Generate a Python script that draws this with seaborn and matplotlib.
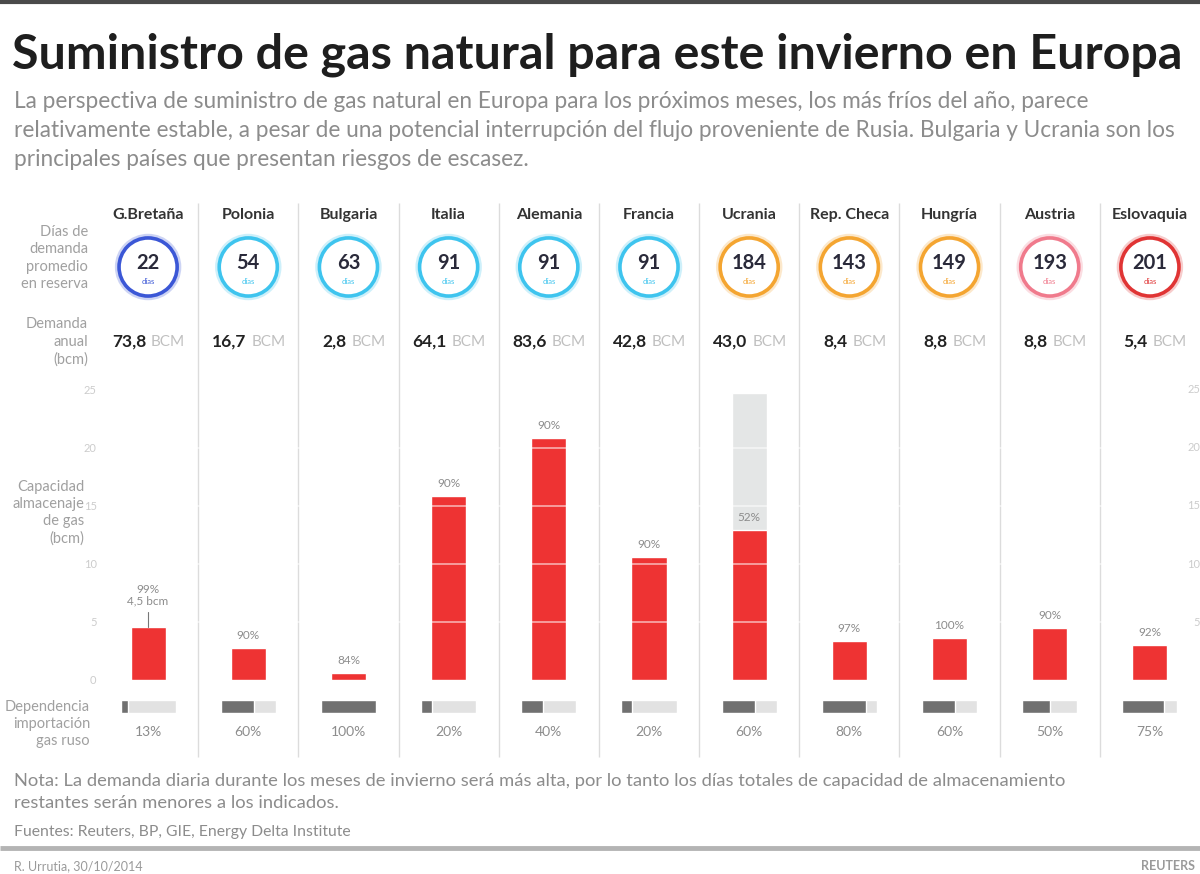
import numpy as np
import pandas as pd
import matplotlib
matplotlib.use("Agg")
import matplotlib.pyplot as plt
import matplotlib.transforms as mtransforms
import seaborn as sns

# ---------------- data ----------------
paises = ["G.Bretaña", "Polonia", "Bulgaria", "Italia", "Alemania", "Francia",
          "Ucrania", "Rep. Checa", "Hungría", "Austria", "Eslovaquia"]
dias_demanda = [22, 54, 63, 91, 91, 91, 184, 143, 149, 193, 201]
demanda_anual = ["73,8", "16,7", "2,8", "64,1", "83,6", "42,8", "43,0", "8,4", "8,8", "8,8", "5,4"]
almacenado = [4.6, 2.8, 0.6, 15.9, 20.9, 10.6, 12.9, 3.4, 3.6, 4.5, 3.0]
capacidad = [4.6, 2.8, 0.6, 15.9, 20.9, 10.6, 24.7, 3.4, 3.6, 4.5, 3.0]
pct_lleno = ["99%", "90%", "84%", "90%", "90%", "90%", "52%", "97%", "100%", "90%", "92%"]
dependencia = [13, 60, 100, 20, 40, 20, 60, 80, 60, 50, 75]
ticks_bcm = [0, 5, 10, 15, 20, 25]

titulo = "Suministro de gas natural para este invierno en Europa"
subtitulo = ["La perspectiva de suministro de gas natural en Europa para los próximos meses, los más fríos del año, parece",
             "relativamente estable, a pesar de una potencial interrupción del flujo proveniente de Rusia. Bulgaria y Ucrania son los",
             "principales países que presentan riesgos de escasez."]
nota = ["Nota: La demanda diaria durante los meses de invierno será más alta, por lo tanto los días totales de capacidad de almacenamiento",
        "restantes serán menores a los indicados."]
fuentes = "Fuentes: Reuters, BP, GIE, Energy Delta Institute"
firma = "R. Urrutia, 30/10/2014"

# ---------------- style ----------------
sns.set_theme(style="white")
plt.rcParams["font.family"] = ["Lato", "DejaVu Sans"]

W, H = 1200, 874
fig = plt.figure(figsize=(12, 8.74), dpi=100)
fig.patch.set_facecolor("white")

circle_colors = ["#3b57d6", "#3ec4ee", "#3ec4ee", "#3ec4ee", "#3ec4ee", "#3ec4ee",
                 "#f4a531", "#f4a531", "#f4a531", "#f07a8c", "#e03434"]
RED = "#ee3333"
GRAY_TXT = "#8c8c8c"

# bars axes (storage)
x0, x1 = 98, 1200
y_zero = 680
px_per = 11.6
ymax = 25.5
ax_b = fig.add_axes([x0 / W, (H - y_zero) / H, (x1 - x0) / W, ymax * px_per / H])
df = pd.DataFrame({"pais": paises, "alm": almacenado, "cap": capacidad})
sns.barplot(data=df, x="pais", y="cap", color="#e4e6e6", width=0.35, ax=ax_b,
            saturation=1, zorder=1)
sns.barplot(data=df, x="pais", y="alm", color=RED, width=0.35, ax=ax_b,
            saturation=1, zorder=2)
ax_b.set_xlim(-0.5, 10.5)
ax_b.set_ylim(0, ymax)
for v in ticks_bcm[1:-1]:
    ax_b.axhline(v, color="white", lw=1.2, zorder=3, alpha=0.6)
ax_b.set_yticks(ticks_bcm)
ax_b.set_yticklabels([str(t) for t in ticks_bcm], fontsize=8, color="#cccccc")
ax_b.tick_params(axis="y", length=0, pad=1)
ax_b.set_xticks([])
ax_b.set_xlabel("")
ax_b.set_ylabel("")
for s in ax_b.spines.values():
    s.set_visible(False)
ax_b.patch.set_alpha(0)
for t in ticks_bcm[1:]:
    ax_b.text(10.5, t, str(t), ha="right", va="center", fontsize=8, color="#cccccc")

# percentage labels on bars
for i, (a, p) in enumerate(zip(almacenado, pct_lleno)):
    if i == 0:
        ax_b.plot([i, i], [a, a + 1.3], color="#777777", lw=0.8, zorder=4)
        ax_b.text(i, a + 1.7, p + "\n4,5 bcm", ha="center", va="bottom",
                  fontsize=8.5, color=GRAY_TXT, linespacing=1.1)
    else:
        ax_b.text(i, a + 0.6, p, ha="center", va="bottom", fontsize=8.5, color=GRAY_TXT)

# overlay axes in pixel coordinates
ov = fig.add_axes([0, 0, 1, 1], zorder=-1)
ov.set_xlim(0, W)
ov.set_ylim(H, 0)
ov.axis("off")
blend = mtransforms.blended_transform_factory(ax_b.transData, ov.transData)

# top and bottom rules
ov.plot([0, W], [2, 2], color="#4a4a4a", lw=3, solid_capstyle="butt")
ov.plot([0, W], [848, 848], color="#b4b4b4", lw=3.5, solid_capstyle="butt")

# title, subtitle
ov.text(12, 55, titulo, fontsize=34.8, fontweight="bold", color="#1e1e1e", va="center", ha="left")
for k, line in enumerate(subtitulo):
    ov.text(14, 102 + 28.5 * k, line, fontsize=16.3, color=GRAY_TXT, va="center", ha="left")

# column separators
ov.vlines([i + 0.5 for i in range(10)], 203, 757, color="#dcdcdc", lw=1, transform=blend)

# row labels
lab_kw = dict(fontsize=10.5, color="#a0a0a0", ha="right", va="center", linespacing=1.3)
ov.text(88, 258, "Días de\ndemanda\npromedio\nen reserva", **lab_kw)
ov.text(88, 342, "Demanda\nanual\n(bcm)", **lab_kw)
ov.text(84, 513, "Capacidad\nalmacenaje\nde gas\n(bcm)", **lab_kw)
ov.text(90, 724, "Dependencia\nimportación\ngas ruso", **lab_kw)

# country names, circles, annual demand
for i, p in enumerate(paises):
    ov.text(i, 215, p, transform=blend, ha="center", va="center", fontsize=11.5,
            fontweight="bold", color="#333333")
ov.scatter(range(11), [267] * 11, s=1750, facecolors="none", edgecolors=circle_colors,
           linewidths=6, alpha=0.25, transform=blend)
ov.scatter(range(11), [267] * 11, s=1750, facecolors="white", edgecolors=circle_colors,
           linewidths=2.6, transform=blend)
for i, (d, c) in enumerate(zip(dias_demanda, circle_colors)):
    ov.text(i, 263, str(d), transform=blend, ha="center", va="center", fontsize=14.5,
            fontweight="bold", color="#2a2a3a")
    ov.text(i, 281, "días", transform=blend, ha="center", va="center", fontsize=5.5, color=c)
    ov.text(i - 0.02, 342, demanda_anual[i], transform=blend, ha="right", va="center",
            fontsize=12.5, fontweight="bold", color="#222222")
    ov.text(i + 0.03, 342, "BCM", transform=blend, ha="left", va="center",
            fontsize=11, color="#c0c0c0")

# dependence bars
ax_d = fig.add_axes([x0 / W, (H - 713) / H, (x1 - x0) / W, 13 / H])
ax_d.set_xlim(-0.5, 10.5)
ax_d.set_ylim(0, 1)
ax_d.axis("off")
bw = 0.55
idx = np.arange(len(paises))
ax_d.barh([0.5] * 11, [bw] * 11, left=idx - bw / 2, height=1, color="#e2e2e2")
ax_d.barh([0.5] * 11, [bw * d / 100 for d in dependencia], left=idx - bw / 2, height=1,
          color="#707070")
for i, d in enumerate(dependencia):
    ov.text(i, 732, f"{d}%", transform=blend, ha="center", va="center", fontsize=10,
            color=GRAY_TXT)

# notes and footer
for k, line in enumerate(nota):
    ov.text(14, 781 + 22 * k, line, fontsize=13.2, color=GRAY_TXT, va="center", ha="left")
ov.text(14, 832, fuentes, fontsize=11.3, color=GRAY_TXT, va="center", ha="left")
ov.text(14, 866, firma, fontsize=9, color="#9a9a9a", va="center", ha="left")
ov.text(1195, 866, "REUTERS", fontsize=9, fontweight="bold", color="#9a9a9a",
        va="center", ha="right")

fig.savefig("out.png", dpi=100, facecolor="white")
